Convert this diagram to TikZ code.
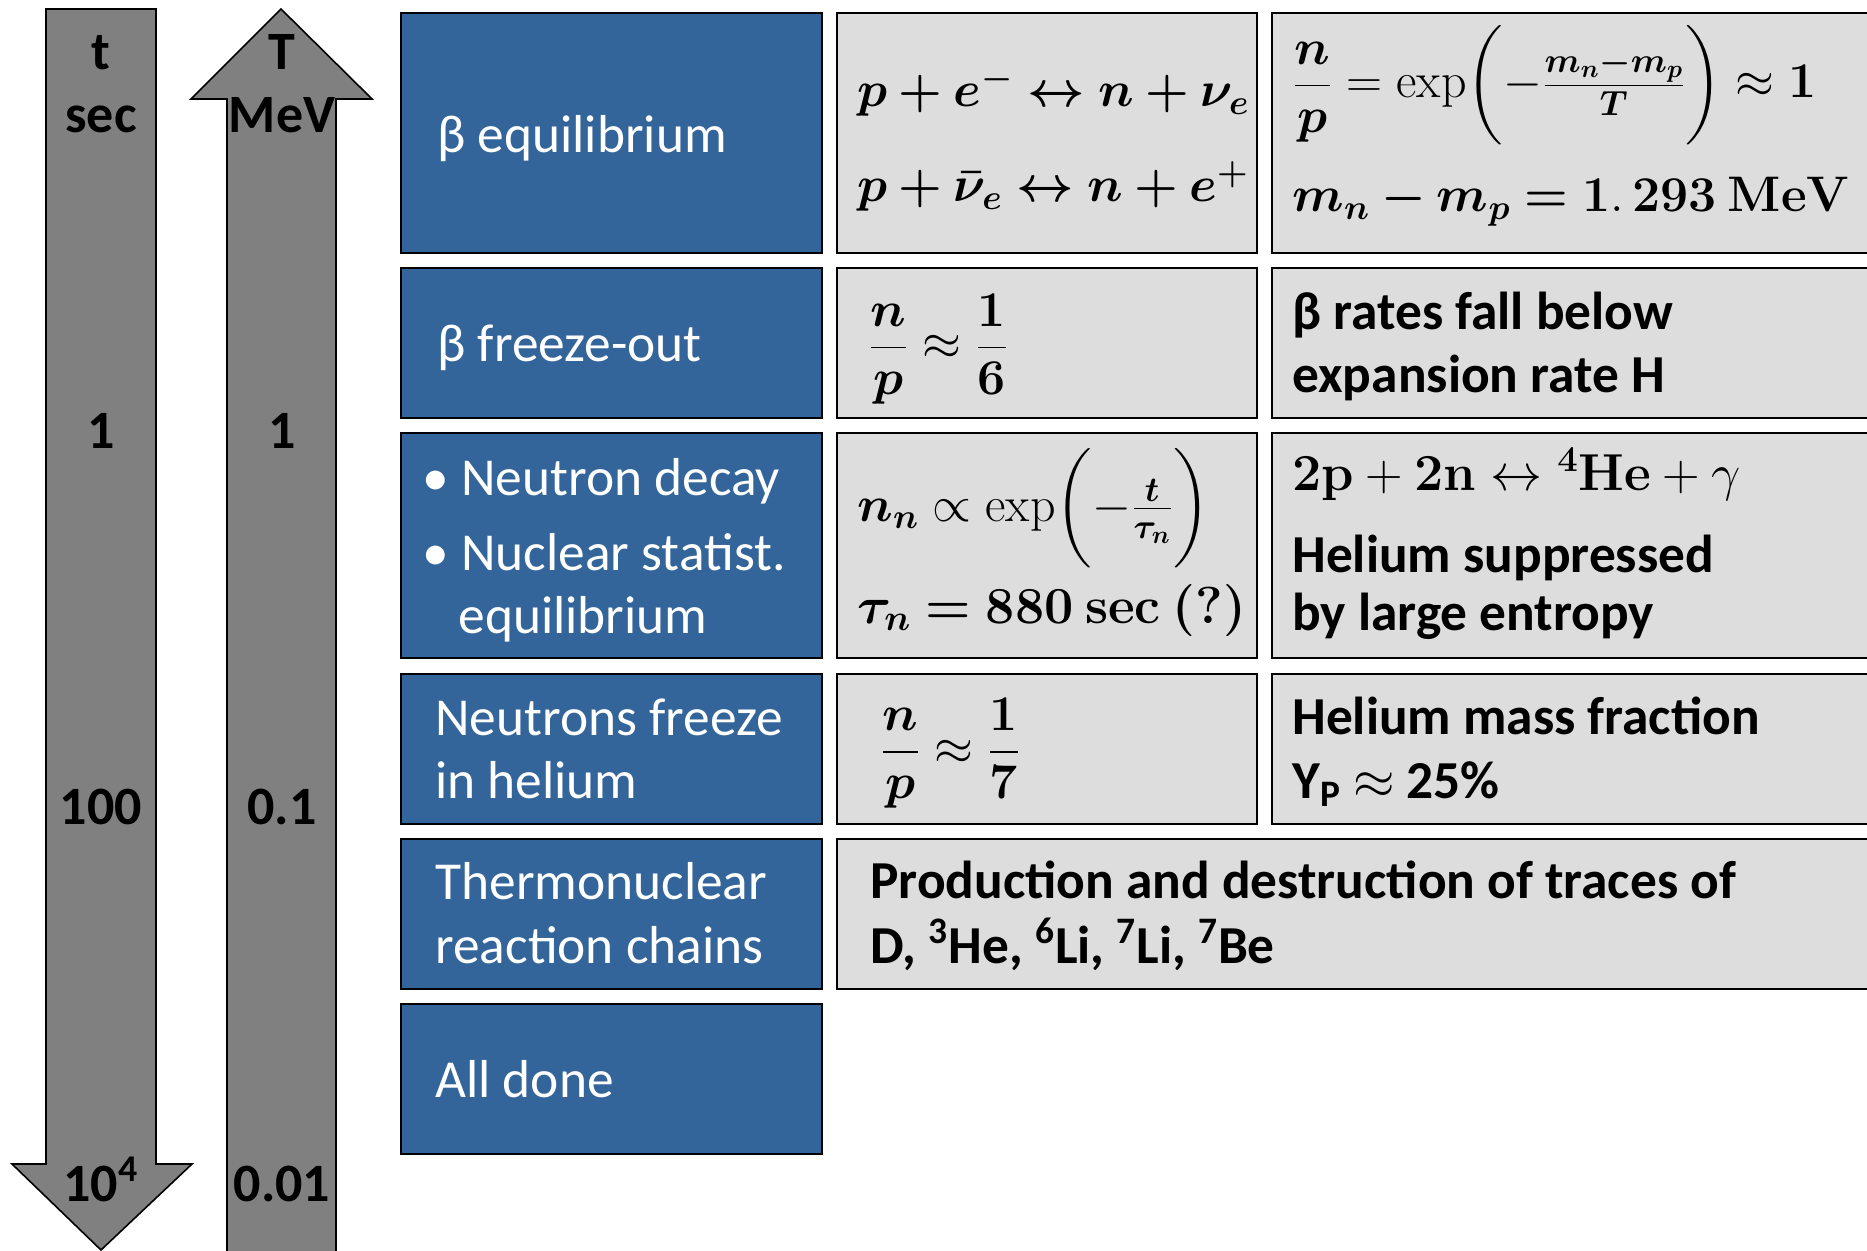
\RequirePackage{fix-cm}
\documentclass[tikz,border=0pt]{standalone}
\usepackage{amsmath}
\usepackage{bm}
\usepackage[no-math]{fontspec}
\setmainfont{Carlito}
\usetikzlibrary{fit}
\definecolor{boxblue}{RGB}{52,101,154}
\definecolor{boxgray}{RGB}{221,221,221}
\definecolor{arrgray}{RGB}{128,128,128}
\begin{document}
\begin{tikzpicture}[x=0.5pt,y=-0.5pt,
  bluebox/.style={draw=black, line width=1pt, fill=boxblue, inner sep=0pt},
  graybox/.style={draw=black, line width=0.9pt, fill=boxgray, inner sep=0pt},
  arrowshape/.style={draw=black, line width=0.8pt, fill=arrgray},
  wtxt/.style={text=white, anchor=base west, inner sep=0pt, font=\fontsize{26.7}{32}\selectfont},
  btxt/.style={anchor=base west, inner sep=0pt, font=\fontsize{26.7}{32}\selectfont\bfseries},
  mtxt/.style={anchor=base west, inner sep=0pt, font=\fontsize{25}{30}\selectfont},
  mtxtL/.style={anchor=base west, inner sep=0pt, font=\fontsize{26}{31}\selectfont},
  mtxtM/.style={anchor=base west, inner sep=0pt, font=\fontsize{26}{31}\selectfont},
  axtxt/.style={anchor=base, inner sep=0pt, font=\fontsize{27}{32}\selectfont\bfseries},
  ]
\useasboundingbox (0,0) rectangle (1867,1251);
\clip (0,0) rectangle (1867,1251);

% arrows
\draw[arrowshape] (46,9) -- (156,9) -- (156,1164) -- (192,1164) -- (101,1250) -- (12,1164) -- (46,1164) -- cycle;
\draw[arrowshape] (281,9) -- (372,99) -- (336,99) -- (336,1270) -- (227,1270) -- (227,99) -- (191,99) -- cycle;

\node[axtxt] (tl) at (101,70) {t};
\node[axtxt] (tu) at (101,133) {sec};
\node[axtxt] (t1) at (101,448) {1};
\node[axtxt] (t2) at (101,824) {100};
\node[axtxt] (t3) at (101,1201) {10\textsuperscript{4}};
\node[axtxt] (Tl) at (282,70) {T};
\node[axtxt] (Tu) at (282,133) {MeV};
\node[axtxt] (T1) at (282,448) {1};
\node[axtxt] (T2) at (282,824) {0.1};
\node[axtxt] (T3) at (282,1201) {0.01};

% blue column
\node[bluebox, fit={(401,13)(822,253)}] (b1) {};
\node[bluebox, fit={(401,268)(822,418)}] (b2) {};
\node[bluebox, fit={(401,433)(822,658)}] (b3) {};
\node[bluebox, fit={(401,674)(822,824)}] (b4) {};
\node[bluebox, fit={(401,839)(822,989)}] (b5) {};
\node[bluebox, fit={(401,1004)(822,1154)}] (b6) {};

% middle column
\node[graybox, fit={(837,13)(1257,253)}] (m1) {};
\node[graybox, fit={(837,268)(1257,418)}] (m2) {};
\node[graybox, fit={(837,433)(1257,658)}] (m3) {};
\node[graybox, fit={(837,674)(1257,824)}] (m4) {};

% right column
\node[graybox, fit={(1272,13)(1885,253)}] (r1) {};
\node[graybox, fit={(1272,268)(1885,418)}] (r2) {};
\node[graybox, fit={(1272,433)(1885,658)}] (r3) {};
\node[graybox, fit={(1272,674)(1885,824)}] (r4) {};
\node[graybox, fit={(837,839)(1885,989)}] (w5) {};

% blue texts
\node[wtxt] (b1t) at (437,153) {β equilibrium};
\node[wtxt] (b2t) at (437,362) {β freeze-out};
\node[wtxt] (b3d1) at (422,495) {\textbullet};
\node[wtxt] (b3a) at (461,495) {Neutron decay};
\node[wtxt] (b3d2) at (422,570) {\textbullet};
\node[wtxt] (b3b) at (461,570) {Nuclear statist.};
\node[wtxt] (b3c) at (458,633) {equilibrium};
\node[wtxt] (b4a) at (435,735) {Neutrons freeze};
\node[wtxt] (b4b) at (435,798) {in helium};
\node[wtxt] (b5a) at (435,899) {Thermonuclear};
\node[wtxt] (b5b) at (435,963) {reaction chains};
\node[wtxt] (b6t) at (435,1097) {All done};

% middle texts
\node[mtxt] (m1a) at (857,107) {$\bm{p + e^{-} \leftrightarrow n + \nu_e}$};
\node[mtxt] (m1b) at (857,202) {$\bm{p + \bar{\nu}_e \leftrightarrow n + e^{+}}$};
\node[mtxt] (m2t) at (868,360) {$\dfrac{\bm{n}}{\bm{p}} \approx \dfrac{\mathbf{1}}{\mathbf{6}}$};
\node[mtxt] (m3a) at (857,521) {$\bm{n_n} \propto \exp\biggl(-\frac{\bm{t}}{\bm{\tau_n}}\biggr)$};
\node[mtxtL] (m3b) at (857,623) {$\bm{\tau_n} \bm{=} \mathbf{880}\ \mathbf{sec}\ \bm{(?)}$};
\node[mtxt] (m4t) at (880,764) {$\dfrac{\bm{n}}{\bm{p}} \approx \dfrac{\mathbf{1}}{\mathbf{7}}$};

% right texts
\node[mtxt] (r1a) at (1292,98) {$\dfrac{\bm{n}}{\bm{p}} = \exp\biggl(-\frac{\bm{m_n - m_p}}{\bm{T}}\biggr) \approx \mathbf{1}$};
\node[mtxt] (r1b) at (1292,212) {$\bm{m_n - m_p} \bm{=} \mathbf{1.\,293}\ \mathbf{MeV}$};
\node[btxt] (r2a) at (1292,330) {β rates fall below};
\node[btxt] (r2b) at (1292,393) {expansion rate H};
\node[mtxtM] (r3a) at (1292,490) {$\mathbf{2p} + \mathbf{2n} \leftrightarrow {}^{\mathbf{4}}\mathbf{He} + \gamma$};
\node[btxt] (r3b) at (1292,572) {Helium suppressed};
\node[btxt] (r3c) at (1292,630) {by large entropy};
\node[btxt] (r4a) at (1292,734) {Helium mass fraction};
\node[btxt] (r4b) at (1292,798) {Y\textsubscript{P} $\approx$ 25\%};
\node[btxt] (w5a) at (870,898) {Production and destruction of traces of};
\node[btxt] (w5b) at (870,963) {D, \textsuperscript{3}He, \textsuperscript{6}Li, \textsuperscript{7}Li, \textsuperscript{7}Be};
\end{tikzpicture}
\end{document}
